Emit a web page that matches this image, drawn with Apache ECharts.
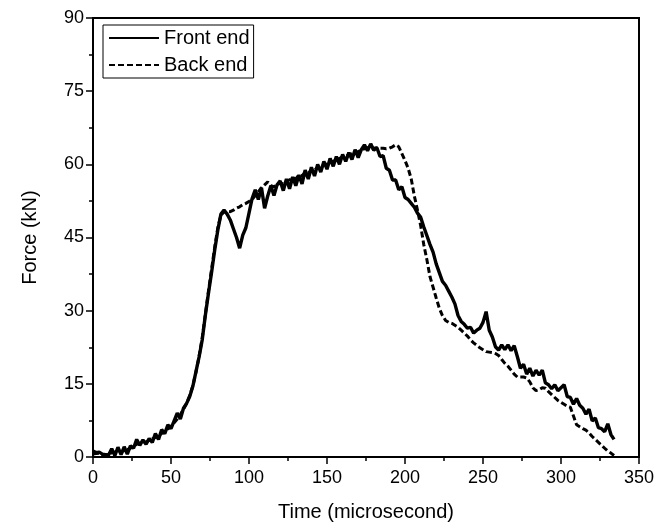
<!DOCTYPE html>
<html>
<head>
<meta charset="utf-8">
<script src="https://cdn.jsdelivr.net/npm/echarts@6/dist/echarts.min.js"></script>
<style>html,body{margin:0;padding:0;background:#fff;}#c{width:664px;height:524px;}</style>
</head>
<body>
<div id="c"></div>
<script>
// Time (microsecond), every 2 µs
var time = [];
for (var i = 0; i <= 334; i += 2) time.push(i);

var frontEnd = [
1.2,0.9,1.0,0.6,0.5,0.4,1.7,0.3,2.0,0.5,2.1,0.6,2.3,1.8,3.6,2.4,3.5,2.6,3.8,3.0,
4.8,3.6,5.6,4.8,6.6,5.8,7.4,9.0,7.8,10.0,11.0,12.4,14.5,17.5,20.5,24.0,29.0,33.5,37.8,42.4,
46.5,49.8,50.6,49.8,48.6,46.8,45.0,42.8,45.5,47.0,50.0,53.0,54.8,52.8,55.2,51.0,53.5,55.6,53.6,55.8,
56.6,54.6,57.0,55.0,57.4,55.6,57.8,56.0,58.8,57.0,59.4,57.6,60.0,58.4,60.6,59.0,61.2,59.6,61.6,60.0,
62.0,60.6,62.4,61.0,63.0,61.4,63.0,64.0,62.8,64.2,62.9,63.4,61.6,61.8,59.2,58.8,56.8,56.8,54.8,55.4,
53.2,52.8,52.0,51.2,50.0,49.2,47.2,45.4,43.6,42.0,39.6,37.8,36.0,35.2,34.0,32.8,31.4,29.0,27.8,27.2,
26.4,26.6,25.4,26.0,26.4,27.6,29.8,26.0,24.6,22.6,21.9,23.0,22.0,23.0,21.8,22.8,20.6,18.2,19.0,17.0,
18.2,16.6,17.8,16.8,17.8,15.2,14.8,14.0,14.8,13.6,14.2,14.8,12.4,12.2,10.8,12.0,10.6,10.0,8.8,9.8,
7.4,8.0,6.0,5.8,5.2,6.8,4.6,3.6
];

var backEnd = [
0.6,0.7,0.8,0.5,0.4,0.5,0.9,1.0,1.2,1.1,1.3,1.5,1.8,2.2,2.6,2.8,3.0,3.1,3.4,3.7,
4.0,4.4,4.8,5.3,5.8,6.3,7.0,7.8,8.7,9.8,11.0,12.6,14.6,17.4,20.6,24.4,29.2,34.0,38.5,43.0,
47.0,49.6,50.2,50.4,50.3,50.6,51.0,51.3,51.7,52.0,52.4,52.8,53.6,54.4,55.2,55.8,56.4,55.6,55.4,55.8,
56.2,56.0,56.6,56.8,57.2,57.0,57.8,57.6,58.4,58.2,58.8,58.8,59.4,59.4,60.0,60.0,60.6,60.6,61.0,61.2,
61.5,61.6,62.0,62.2,62.6,62.6,63.0,63.2,63.4,63.4,63.3,63.4,63.3,63.3,63.2,63.3,63.6,64.0,63.6,62.2,
60.8,59.2,57.0,53.5,50.6,47.5,43.6,40.5,37.0,34.8,32.6,30.5,29.0,28.0,27.6,27.4,27.0,26.6,26.0,25.4,
24.8,24.0,23.4,22.9,22.4,22.0,21.6,21.5,21.4,21.2,20.8,20.0,19.2,18.6,17.8,17.0,16.4,16.4,16.4,16.2,
15.4,14.2,13.6,13.8,14.2,14.1,13.4,12.8,12.2,11.6,11.2,10.8,10.4,10.2,8.4,6.6,6.2,5.8,5.5,4.9,
4.2,3.6,3.0,2.4,1.8,1.2,0.8,0.3
];

var xTicks = [0, 50, 100, 150, 200, 250, 300, 350];
var yTicks = [0, 15, 30, 45, 60, 75, 90];

function pairs(ys) {
  var out = [];
  for (var i = 0; i < ys.length && i < time.length; i++) out.push([time[i], ys[i]]);
  return out;
}

var chart = echarts.init(document.getElementById('c'), null, {renderer: 'canvas'});
var font = 'Liberation Sans, Arial, sans-serif';
chart.setOption({
  animation: false,
  backgroundColor: '#fff',
  grid: {left: 93, right: 25, top: 18, bottom: 67, show: true, borderColor: '#000', borderWidth: 2,
         backgroundColor: 'transparent', containLabel: false, outerBoundsMode: 'none'},
  legend: {
    show: true,
    left: 103, top: 25, orient: 'vertical', itemGap: 7,
    itemWidth: 50, itemHeight: 14,
    borderColor: '#000', borderWidth: 1, padding: [3, 4, 3, 5],
    backgroundColor: '#fff',
    textStyle: {fontFamily: font, fontSize: 20, color: '#000', lineHeight: 20},
    lineStyle: {width: 2},
    itemStyle: {opacity: 0},
    data: ['Front end', 'Back end']
  },
  xAxis: {
    type: 'value', min: xTicks[0], max: xTicks[xTicks.length - 1], interval: 50,
    name: 'Time (microsecond)', nameLocation: 'middle', nameGap: 45,
    nameTextStyle: {fontFamily: font, fontSize: 20, color: '#000'},
    axisLine: {show: true, onZero: false, lineStyle: {color: '#000', width: 2}},
    axisTick: {show: true, inside: false, length: 7, lineStyle: {color: '#000', width: 1.5}},
    minorTick: {show: true, splitNumber: 2, length: 4, lineStyle: {color: '#000', width: 1.5}},
    axisLabel: {fontFamily: font, fontSize: 18, color: '#000', margin: 12},
    splitLine: {show: false}
  },
  yAxis: {
    type: 'value', min: yTicks[0], max: yTicks[yTicks.length - 1], interval: 15,
    name: 'Force (kN)', nameLocation: 'middle', nameGap: 53, nameRotate: 90,
    nameTextStyle: {fontFamily: font, fontSize: 20, color: '#000'},
    axisLine: {show: true, onZero: false, lineStyle: {color: '#000', width: 2}},
    axisTick: {show: true, inside: false, length: 7, lineStyle: {color: '#000', width: 1.5}},
    minorTick: {show: true, splitNumber: 2, length: 4, lineStyle: {color: '#000', width: 1.5}},
    axisLabel: {fontFamily: font, fontSize: 18, color: '#000', margin: 9},
    splitLine: {show: false}
  },
  series: [
    {name: 'Front end', type: 'line', showSymbol: false, symbol: 'none', data: pairs(frontEnd),
     lineStyle: {color: '#000', width: 3.4, type: 'solid'}, itemStyle: {color: '#000'}},
    {name: 'Back end', type: 'line', showSymbol: false, symbol: 'none', data: pairs(backEnd),
     lineStyle: {color: '#000', width: 3, type: [6, 3]}, itemStyle: {color: '#000'}}
  ]
});
</script>
</body>
</html>
